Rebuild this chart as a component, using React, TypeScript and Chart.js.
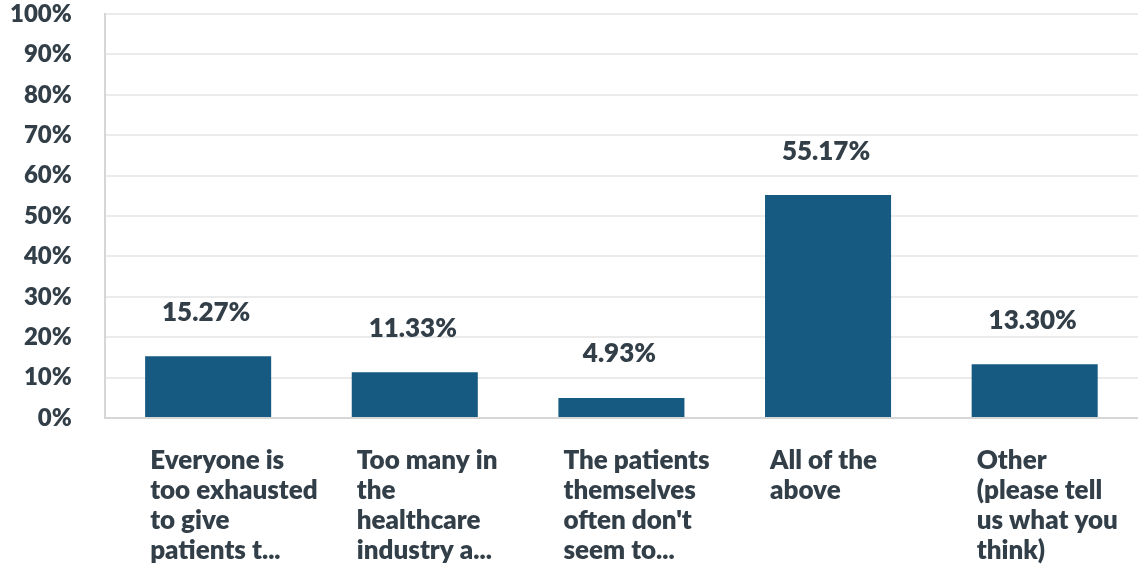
import React, { useEffect, useRef } from 'react';
import { Chart, registerables } from 'chart.js';

Chart.register(...registerables);

const categories: string[][] = [
  ['Everyone is', 'too exhausted', 'to give', 'patients t...'],
  ['Too many in', 'the', 'healthcare', 'industry a...'],
  ['The patients', 'themselves', "often don't", 'seem to...'],
  ['All of the', 'above'],
  ['Other', '(please tell', 'us what you', 'think)'],
];
const values: number[] = [15.27, 11.33, 4.93, 55.17, 13.3];
const yMin = 0;
const yMax = 100;
const yStep = 10;

const TEXT = '#333f48';
const BAR = '#165a82';
const FONT = 'Lato';

const valueLabels = {
  id: 'valueLabels',
  afterDatasetsDraw(chart: any) {
    const ctx = chart.ctx;
    const meta = chart.getDatasetMeta(0);
    ctx.save();
    ctx.font = `800 26px ${FONT}`;
    ctx.fillStyle = TEXT;
    ctx.textAlign = 'center';
    ctx.textBaseline = 'middle';
    meta.data.forEach((bar: any, i: number) => {
      ctx.fillText(values[i].toFixed(2) + '%', bar.x - 2, bar.y - 44);
    });
    ctx.restore();
  },
};

export default function App() {
  const ref = useRef<HTMLCanvasElement | null>(null);
  useEffect(() => {
    document.body.style.margin = '0';
    const chart = new Chart(ref.current as HTMLCanvasElement, {
      type: 'bar',
      data: {
        labels: categories,
        datasets: [
          {
            data: values,
            backgroundColor: BAR,
            categoryPercentage: 1,
            barPercentage: 0.61,
          },
        ],
      },
      options: {
        animation: false,
        responsive: true,
        maintainAspectRatio: false,
        layout: { padding: { left: 10, top: 1, right: 0, bottom: 0 } },
        plugins: { legend: { display: false }, tooltip: { enabled: false } },
        scales: {
          x: {
            grid: { display: false, drawTicks: false },
            border: { display: true, color: '#d6d6d6', width: 2 },
            ticks: {
              color: TEXT,
              font: { family: FONT, size: 26, weight: '800', lineHeight: 30 / 26 },
              align: 'start',
              labelOffset: -58,
              padding: 28,
              maxRotation: 0,
              minRotation: 0,
              autoSkip: false,
            },
            afterFit(scale: any) {
              scale.paddingLeft = 0;
              scale.paddingRight = 0;
              scale.height -= scale.options.ticks.padding;
            },
          },
          y: {
            min: yMin,
            max: yMax,
            grid: { color: '#ebebeb', lineWidth: 2, drawTicks: false },
            border: { display: true, color: '#d6d6d6', width: 2 },
            ticks: {
              stepSize: yStep,
              color: TEXT,
              font: { family: FONT, size: 24, weight: '800' },
              padding: 33,
              callback: (v: any) => v + '%',
            },
            afterFit(scale: any) {
              scale.paddingTop = 14;
              scale.paddingBottom = 0;
              scale.width -= scale.options.ticks.padding;
            },
          },
        },
      },
      plugins: [valueLabels],
    });
    return () => chart.destroy();
  }, []);
  return (
    <div style={{ position: 'relative', width: '1138px', height: '566px' }}>
      <canvas ref={ref} />
    </div>
  );
}
